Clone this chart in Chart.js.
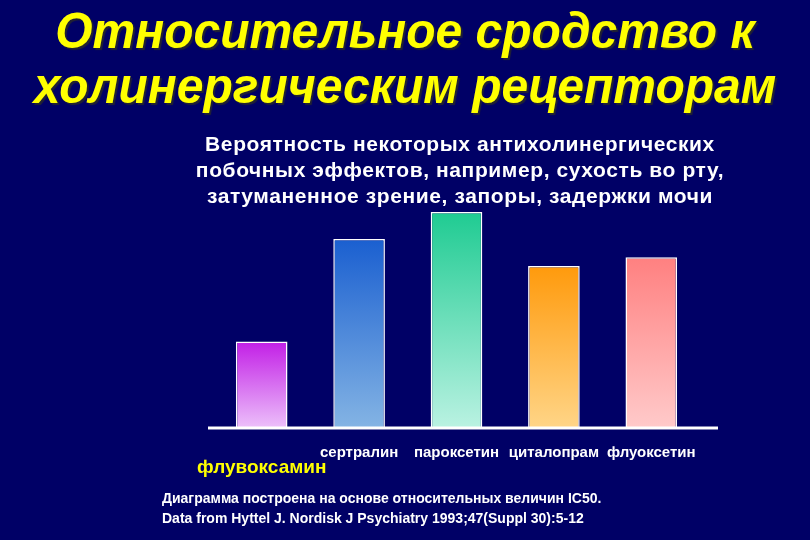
<!DOCTYPE html>
<html>
<head>
<meta charset="utf-8">
<script src="https://cdn.jsdelivr.net/npm/chart.js@4/dist/chart.umd.min.js"></script>
<style>
  html, body { margin: 0; padding: 0; background: #000066; }
  #wrap { position: relative; width: 810px; height: 540px; overflow: hidden; background: #000066; }
  #chart { position: absolute; left: 0; top: 0; }
  .title {
    position: absolute; left: 0; top: 4px; width: 810px; text-align: center;
    font-family: "Liberation Sans", Arial, sans-serif;
    font-weight: bold; font-style: italic; font-size: 50px; line-height: 55px;
    color: #ffff00; text-shadow: 2px 2px 1px #222233;
    transform: scaleX(0.96); transform-origin: 405px 0;
  }
  .sub {
    position: absolute; left: 160px; top: 131px; width: 600px; text-align: center;
    font-family: "Liberation Sans", Arial, sans-serif; font-weight: bold;
    font-size: 21px; line-height: 26px; letter-spacing: 0.6px; color: #ffffff;
  }
  .note {
    position: absolute; left: 162px; top: 488px;
    font-family: "Liberation Sans", Arial, sans-serif; font-weight: bold;
    font-size: 14px; line-height: 20px; color: #ffffff;
  }
</style>
</head>
<body>
<div id="wrap">
  <canvas id="chart" width="810" height="540"></canvas>
  <div class="title">Относительное сродство к<br>холинергическим рецепторам</div>
  <div class="sub">Вероятность некоторых антихолинергических<br>побочных эффектов, например, сухость во рту,<br>затуманенное зрение, запоры, задержки мочи</div>
  <div class="note">Диаграмма построена на основе относительных величин IC50.<br>Data from Hyttel J. Nordisk J Psychiatry 1993;47(Suppl 30):5-12</div>
</div>
<script>
// данные: относительное сродство (пароксетин = 100)
const drugs = ["флувоксамин", "сертралин", "пароксетин", "циталопрам", "флуоксетин"];
const affinity = [40, 87.5, 100, 75, 79];
const topColors = ["#c21fe6", "#1a5fd0", "#1fcb92", "#ff9a0c", "#ff8080"];
const bottomColors = ["#ecc0fa", "#84b4e4", "#baf2e2", "#ffd587", "#ffcaca"];

// градиент сверху вниз для каждого столбца
function barGradient(ctx) {
    const chart = ctx.chart;
    if (!chart.chartArea || ctx.type !== "data") return topColors[0];
    const y = chart.scales.y;
    const top = y.getPixelForValue(ctx.raw);
    const bottom = y.getPixelForValue(0);
    const g = chart.ctx.createLinearGradient(0, top, 0, bottom);
    g.addColorStop(0, topColors[ctx.dataIndex]);
    g.addColorStop(1, bottomColors[ctx.dataIndex]);
    return g;
}

// белая линия оси под столбцами
const baseLine = {
    id: "baseLine",
    afterDatasetsDraw(chart) {
        const c = chart.ctx;
        const y0 = chart.scales.y.getPixelForValue(0);
        c.save();
        c.strokeStyle = "#ffffff";
        c.lineWidth = 3;
        c.beginPath();
        c.moveTo(chart.chartArea.left - 5, y0);
        c.lineTo(chart.chartArea.right + 18, y0);
        c.stroke();
        c.restore();
    }
};

new Chart(document.getElementById("chart"), {
    type: "bar",
    data: {
        labels: drugs,
        datasets: [{
            data: affinity,
            backgroundColor: barGradient,
            borderColor: "#ffffff",
            borderWidth: 1.5,
            barPercentage: 0.53,
            categoryPercentage: 1
        }]
    },
    options: {
        responsive: false,
        animation: false,
        devicePixelRatio: 1,
        layout: { padding: { left: 213, right: 110, top: 212, bottom: 0 } },
        plugins: {
            legend: { display: false },
            tooltip: { enabled: false }
        },
        scales: {
            x: {
                grid: { display: false },
                border: { display: false },
                afterFit: (s) => { s.height = 112; },
                ticks: {
                    autoSkip: false,
                    maxRotation: 0,
                    padding: 9,
                    callback: function(v, i) {
                        return i === 0 ? ["", drugs[i]] : drugs[i];
                    },
                    color: (ctx) => ctx.index === 0 ? "#ffff00" : "#ffffff",
                    font: (ctx) => ({
                        family: "'Liberation Sans', Arial, sans-serif",
                        weight: "bold",
                        size: ctx.index === 0 ? 19 : 15,
                        lineHeight: ctx.index === 0 ? 0.8 : 1
                    })
                }
            },
            y: {
                display: false,
                min: 0,
                max: 100
            }
        }
    },
    plugins: [baseLine]
});
</script>
</body>
</html>
